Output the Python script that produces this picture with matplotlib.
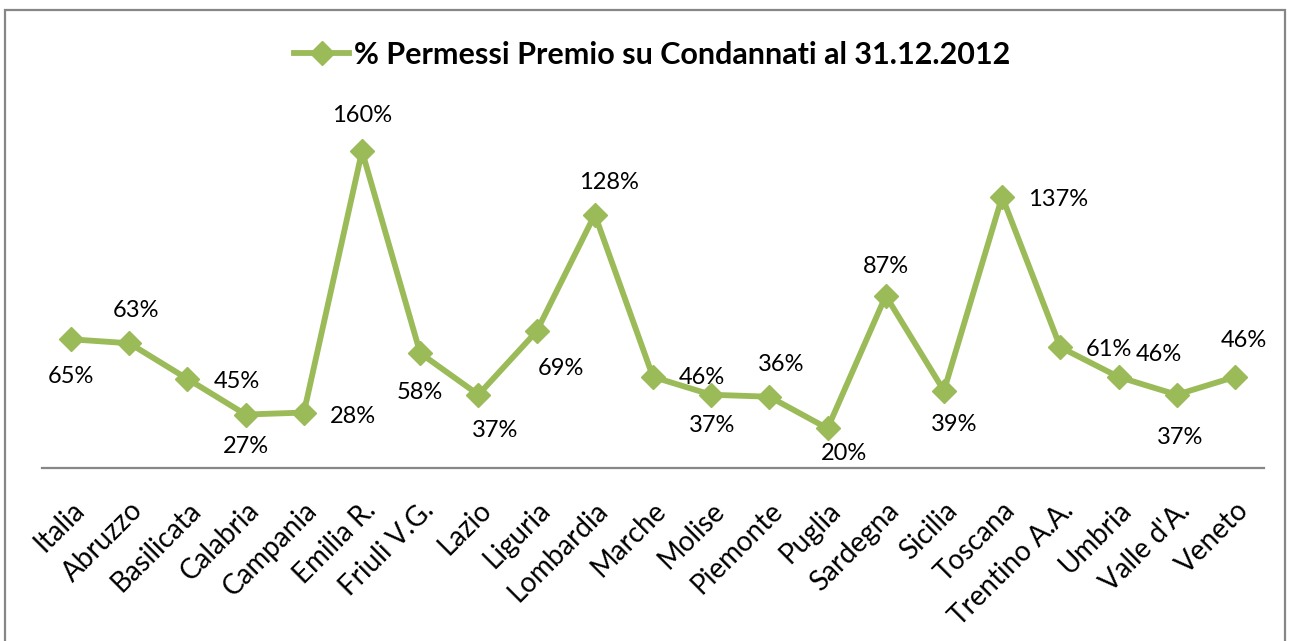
import matplotlib.pyplot as plt
from matplotlib.patches import Rectangle

plt.rcParams['font.family'] = ['Lato', 'DejaVu Sans']

regions = ["Italia", "Abruzzo", "Basilicata", "Calabria", "Campania", "Emilia R.",
           "Friuli V.G.", "Lazio", "Liguria", "Lombardia", "Marche", "Molise",
           "Piemonte", "Puglia", "Sardegna", "Sicilia", "Toscana", "Trentino A.A.",
           "Umbria", "Valle d'A.", "Veneto"]
permessi = [0.65, 0.63, 0.45, 0.27, 0.28, 1.60, 0.58, 0.37, 0.69, 1.28, 0.46,
            0.37, 0.36, 0.20, 0.87, 0.39, 1.37, 0.61, 0.46, 0.37, 0.46]

# label offsets in pixels (dx right, dy down), as placed in the original
label_off = [(0, 37), (7, -33), (49, 3), (0, 32), (49, 4), (0, -36), (0, 39),
             (17, 36), (24, 37), (14, -32), (49, 1), (1, 31), (12, -32), (16, 25),
             (0, -29), (10, 34), (56, 3), (49, 2), (40, -22), (3, 43), (9, -36)]

green = "#9BBB59"
W, H = 1292, 641
fig = plt.figure(figsize=(W / 100, H / 100), dpi=100)
ax = fig.add_axes([42 / W, (H - 468) / H, (1264 - 42) / W, 356.4 / H])

x = range(len(regions))
line, = ax.plot(x, permessi, color=green, lw=4.2, marker="D", ms=12,
                label="% Permessi Premio su Condannati al 31.12.2012")

for i, v in enumerate(permessi):
    dx, dy = label_off[i]
    ax.annotate(f"{v * 100:.0f}%", (i, v), xytext=(dx * 0.72, -dy * 0.72),
                textcoords="offset points", ha="center", va="center",
                fontsize=17, color="black")

ax.set_xlim(-0.5, len(regions) - 0.5)
ax.set_ylim(0, 1.8)
ax.set_yticks([])
ax.set_xticks(list(x))
ax.set_xticklabels(regions, rotation=45, ha="right", va="top",
                   rotation_mode="anchor", fontsize=20)
ax.tick_params(axis="x", length=0, pad=21)
for s in ["top", "right", "left"]:
    ax.spines[s].set_visible(False)
ax.spines["bottom"].set_color("#868686")
ax.spines["bottom"].set_linewidth(1.6)

fig.legend(handles=[line], loc="center", bbox_to_anchor=(652 / W, 1 - 55 / H),
           frameon=False, prop={"weight": "bold", "size": 22},
           handlelength=1.8, handletextpad=0.15)

fig.patches.append(Rectangle((5 / W, -0.05), (1285 - 5) / W, 1.05 - 10 / H,
                             transform=fig.transFigure, fill=False,
                             edgecolor="#868686", lw=1.6))

fig.savefig("out.png", dpi=100)
